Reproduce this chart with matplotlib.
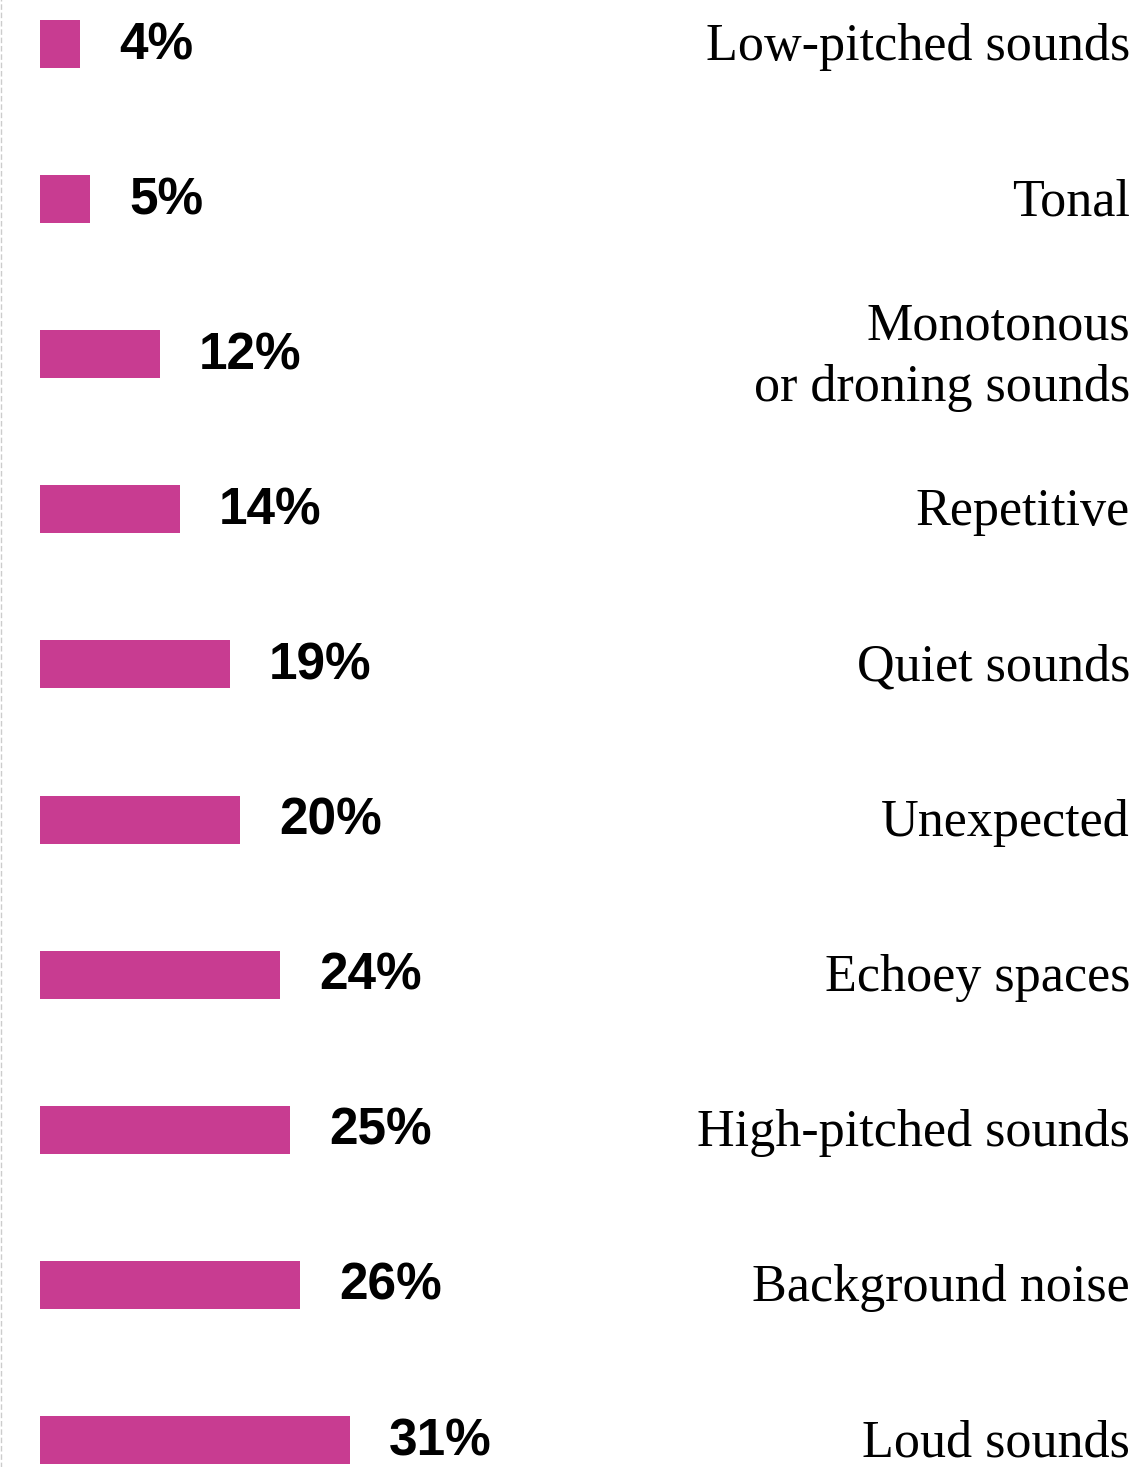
import matplotlib.pyplot as plt

plt.rcParams["figure.dpi"] = 100

# Data
categories = ["Low-pitched sounds", "Tonal", "Monotonous\nor droning sounds",
              "Repetitive", "Quiet sounds", "Unexpected", "Echoey spaces",
              "High-pitched sounds", "Background noise", "Loud sounds"]
values = [4, 5, 12, 14, 19, 20, 24, 25, 26, 31]
value_labels = ["4%", "5%", "12%", "14%", "19%", "20%", "24%", "25%", "26%", "31%"]

bar_color = "#C83C91"

fig = plt.figure(figsize=(11.42, 14.67))
ax = fig.add_axes([0, 0, 1, 1])

y = list(range(len(categories)))
ax.barh(y, values, height=0.31, color=bar_color)

for yi, v, lab in zip(y, values, value_labels):
    ax.text(v + 3.9, yi + 0.01, lab, ha="left", va="center", fontsize=37,
            fontweight="bold", family="Liberation Sans", color="black")

for yi, cat in zip(y, categories):
    ax.text(1130 / 1142, yi + 0.02, cat, transform=ax.get_yaxis_transform(),
            ha="right", va="center", fontsize=37.5, family="Liberation Serif",
            color="black", linespacing=1.38)

ax.set_xlim(-4, 110.2)
ax.set_ylim(9.174, -0.2837)

for s in ["top", "right", "bottom"]:
    ax.spines[s].set_visible(False)
ax.spines["left"].set_position(("axes", 0.001))
ax.spines["left"].set_color("#cccccc")
ax.spines["left"].set_linewidth(1)
ax.spines["left"].set_linestyle((0, (3, 3)))
ax.set_xticks([])
ax.set_yticks([])

plt.savefig("out.png", dpi=100)
